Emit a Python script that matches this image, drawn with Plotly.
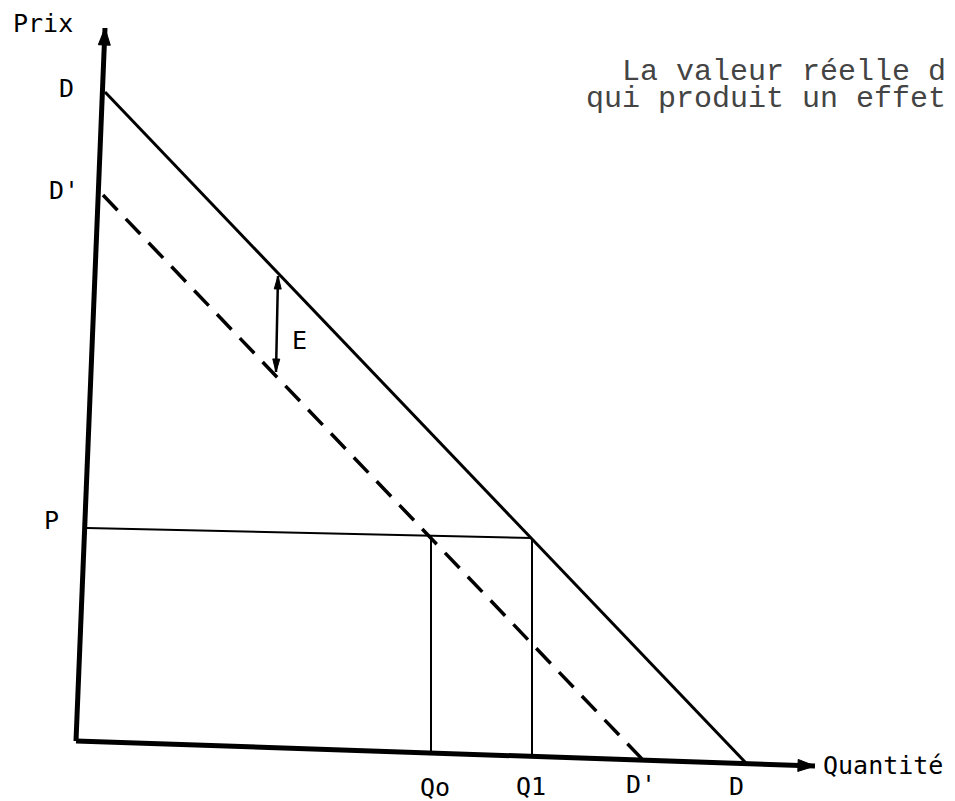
import plotly.graph_objects as go

# ---- diagram geometry (in page units) ----
price_axis_x = [76, 105]
price_axis_y = [741, 28]
qty_axis_x = [76, 815]
qty_axis_y = [741, 766]

demand_D_x = [105, 746]
demand_D_y = [92, 763]
demand_Dp_x = [103, 643]
demand_Dp_y = [195, 760]

price_P_x = [87, 532]
price_P_y = [528, 538]
qty_Qo_x = [431, 431]
qty_Qo_y = [535, 752]
qty_Q1_x = [532, 532]
qty_Q1_y = [538, 756]

effect_E_x = [278, 276]
effect_E_y = [276, 372]

label_text = ["Prix", "D", "D'", "P", "E", "Qo", "Q1", "D'", "D", "Quantité"]
label_x = [43, 66, 64, 51, 299, 435, 531, 641, 736, 821]
label_y = [23, 88, 190, 520, 340, 787, 786, 784, 786, 765]
label_anchor = ["center"] * 9 + ["left"]

note_lines = ["La valeur réelle d", "qui produit un effet"]
note_x = [948, 948]
note_y = [72, 99]

# page is 955x801; the html body adds an 8px margin, so the plotting area
# is 947x793 and starts at page pixel 8
PAGE_W, PAGE_H, BODY = 955, 801, 8
fig = go.Figure()


def line(xs, ys, width, dash="solid"):
    fig.add_trace(go.Scatter(x=xs, y=ys, mode="lines",
                             line=dict(color="black", width=width, dash=dash),
                             hoverinfo="skip", showlegend=False))


def head(tip, tail, length, half):
    dx, dy = tip[0] - tail[0], tip[1] - tail[1]
    n = (dx * dx + dy * dy) ** 0.5
    ux, uy = dx / n, dy / n
    bx, by = tip[0] - ux * length, tip[1] - uy * length
    px, py = -uy, ux
    xs = [tip[0], bx + px * half, bx - px * half, tip[0]]
    ys = [tip[1], by + py * half, by - py * half, tip[1]]
    fig.add_trace(go.Scatter(x=xs, y=ys, mode="lines", fill="toself",
                             fillcolor="black", line=dict(color="black", width=1),
                             hoverinfo="skip", showlegend=False))


# axes
line(price_axis_x, price_axis_y, 5)
line(qty_axis_x, qty_axis_y, 5)
head((price_axis_x[1], price_axis_y[1]), (price_axis_x[0], price_axis_y[0]), 17, 6)
head((qty_axis_x[1], qty_axis_y[1]), (qty_axis_x[0], qty_axis_y[0]), 17, 6)

# demand curves
line(demand_D_x, demand_D_y, 3)
line(demand_Dp_x, demand_Dp_y, 3.5, dash="21px,12px")

# price / quantity guides
line(price_P_x, price_P_y, 2)
line(qty_Qo_x, qty_Qo_y, 2)
line(qty_Q1_x, qty_Q1_y, 2)

# effect arrow E (double-headed)
line(effect_E_x, effect_E_y, 2.5)
head((effect_E_x[0], effect_E_y[0]), (effect_E_x[1], effect_E_y[1]), 13, 3.5)
head((effect_E_x[1], effect_E_y[1]), (effect_E_x[0], effect_E_y[0]), 13, 3.5)

for t, x, y, a in zip(label_text, label_x, label_y, label_anchor):
    fig.add_annotation(x=x, y=y, text=t, showarrow=False, xanchor=a, yanchor="middle",
                       font=dict(family="DejaVu Sans Mono", size=25, color="black"))

for t, x, y in zip(note_lines, note_x, note_y):
    fig.add_annotation(x=x, y=y, text=t, showarrow=False, xanchor="right", yanchor="middle",
                       font=dict(family="Liberation Mono, Courier New, monospace",
                                 size=30, color="#444444"))

fig.update_xaxes(range=[BODY, PAGE_W], visible=False, fixedrange=True)
fig.update_yaxes(range=[PAGE_H, BODY], visible=False, fixedrange=True)
fig.update_layout(width=PAGE_W - BODY, height=PAGE_H - BODY,
                  margin=dict(l=0, r=0, t=0, b=0),
                  paper_bgcolor="white", plot_bgcolor="white")

fig.write_html("out.html")
